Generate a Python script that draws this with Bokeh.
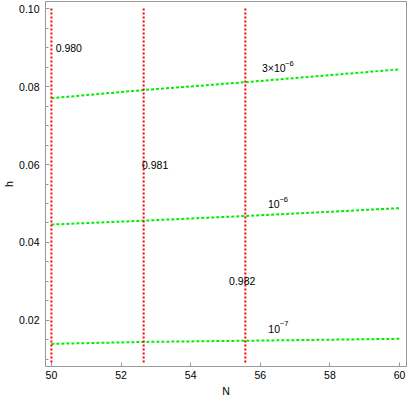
from bokeh.plotting import figure
from bokeh.models import ColumnDataSource, Range1d, FixedTicker, PrintfTickFormatter
from bokeh.embed import file_html
from bokeh.resources import INLINE
from bokeh.core.properties import value

# ---- data ----
N_pts = [50.0, 52.65, 55.57, 60.0]
h_3e6 = [0.0770, 0.0791, 0.0811, 0.0844]
h_1e6 = [0.0446, 0.0456, 0.0468, 0.0488]
h_1e7 = [0.0140, 0.0145, 0.0148, 0.0153]

red_N = [50.0, 52.65, 55.57]
red_h_lo = [0.0092, 0.0092, 0.0092]
red_h_hi = [0.100, 0.100, 0.100]

red_labels = ["0.980", "0.981", "0.982"]
red_label_N = [50.5, 52.98, 55.48]
red_label_h = [0.090, 0.060, 0.030]

green_base = ["3×10", "10", "10"]
green_exp = ["−6", "−6", "−7"]
green_label_N = [56.05, 56.22, 56.23]
green_label_h = [0.0847, 0.0498, 0.0179]

x_ticks = [50, 52, 54, 56, 58, 60]
y_ticks = [0.02, 0.04, 0.06, 0.08, 0.10]
y_minor = [0.010, 0.015, 0.025, 0.030, 0.035, 0.045, 0.050, 0.055,
           0.065, 0.070, 0.075, 0.085, 0.090, 0.095]

FONT = "Liberation Sans"
GRAY = "#999999"

p = figure(width=407, height=399, output_backend="svg", toolbar_location=None,
           x_range=Range1d(49.83, 60.2), y_range=Range1d(0.0082, 0.1018),
           min_border_left=30, min_border_right=1, min_border_top=1,
           min_border_bottom=20)
p.grid.visible = False
p.outline_line_color = GRAY
p.outline_line_width = 1
p.background_fill_color = "white"
p.border_fill_color = "white"

for hs in (h_3e6, h_1e6, h_1e7):
    p.line(N_pts, hs, line_color="#00ee00", line_width=2, line_dash="3 2")

p.segment(x0=red_N, y0=red_h_lo, x1=red_N, y1=red_h_hi,
          line_color="#ff0000", line_width=2, line_dash="2 2")

src_r = ColumnDataSource(dict(x=red_label_N, y=red_label_h, t=red_labels))
p.text(x="x", y="y", text="t", source=src_r, text_font=value(FONT),
       text_font_size="10.5px", text_align="center", text_baseline="middle",
       text_color="black")

src_g = ColumnDataSource(dict(x=green_label_N, y=green_label_h, t=green_base,
                              e=green_exp, xo=[23, 11.5, 11.5]))
p.text(x="x", y="y", text="t", source=src_g, text_font=value(FONT),
       text_font_size="10.5px", text_align="left", text_baseline="middle",
       text_color="black")
p.text(x="x", y="y", text="e", source=src_g, text_font=value(FONT),
       text_font_size="7.5px", text_align="left", text_baseline="middle",
       text_color="black", x_offset="xo", y_offset=-5)

for ax in (p.xaxis[0], p.yaxis[0]):
    ax.axis_line_color = GRAY
    ax.major_tick_line_color = GRAY
    ax.minor_tick_line_color = GRAY
    ax.major_tick_in = 4
    ax.major_tick_out = 0
    ax.minor_tick_in = 3
    ax.minor_tick_out = 0
    ax.major_label_text_font = FONT
    ax.major_label_text_font_size = "10.5px"
    ax.major_label_text_color = "black"
    ax.axis_label_text_font = FONT
    ax.axis_label_text_font_size = "10.5px"
    ax.axis_label_text_font_style = "normal"
    ax.axis_label_text_color = "black"

p.xaxis.ticker = FixedTicker(ticks=x_ticks, minor_ticks=[])
p.yaxis.ticker = FixedTicker(ticks=y_ticks, minor_ticks=y_minor)
p.yaxis.formatter = PrintfTickFormatter(format="%.2f")
p.xaxis.axis_label = "N"
p.yaxis.axis_label = "h"
p.xaxis.major_label_standoff = 4
p.yaxis.major_label_standoff = 6
p.xaxis.axis_label_standoff = 3
p.yaxis.axis_label_standoff = 1

open("out.html", "w").write(file_html(p, INLINE))
